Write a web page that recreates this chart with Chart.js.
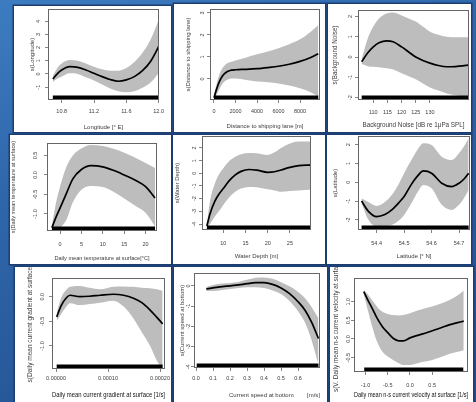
<!DOCTYPE html>
<html><head><meta charset="utf-8">
<script src="https://cdn.jsdelivr.net/npm/chart.js@4.4.1/dist/chart.umd.min.js"></script>
<style>
html,body{margin:0;padding:0;}
body{width:476px;height:402px;overflow:hidden;position:relative;
 background:linear-gradient(160deg,#3d7cc0 0%,#2f66aa 35%,#285a9c 65%,#1f4c8a 100%);}
.p{position:absolute;background:#fff;box-shadow:0 0 0 1.5px #1c3d70;}
.p canvas{position:absolute;left:0;top:0;}
</style></head><body>
<script>
// ---- Longitude ----
const lonX   = [10.69, 10.75, 10.8, 10.9, 11.0, 11.1, 11.2, 11.3, 11.4, 11.5, 11.6, 11.7, 11.8, 11.9, 12.02];
const lonFit = [-0.38, 0.05, 0.3, 0.55, 0.5, 0.3, 0.05, -0.2, -0.42, -0.55, -0.45, -0.2, 0.25, 0.95, 2.3];
const lonUp  = [-0.15, 0.5, 0.8, 1.05, 1.0, 0.8, 0.55, 0.35, 0.25, 0.25, 0.45, 0.9, 1.6, 2.6, 4.4];
const lonLo  = [-0.6, -0.35, -0.2, 0.05, 0.0, -0.25, -0.5, -0.8, -1.1, -1.3, -1.38, -1.3, -1.05, -0.65, 0.2];
const lonRug = [10.69, 12.02];
const lonXTicks = [10.8, 11.2, 11.6, 12.0], lonXLabels = ['10.8','11.2','11.6','12.0'];
const lonYTicks = [-1, 0, 1, 2, 3, 4], lonYLabels = ['-1','0','1','2','3','4'];

// ---- Distance to shipping lane ----
const distX   = [0, 250, 500, 800, 1200, 1600, 2000, 3000, 4000, 5000, 6000, 7000, 8000, 9000, 9700];
const distFit = [-0.85, -0.45, -0.12, 0.15, 0.33, 0.4, 0.42, 0.44, 0.47, 0.52, 0.58, 0.67, 0.8, 0.98, 1.15];
const distUp  = [-0.75, -0.2, 0.2, 0.5, 0.7, 0.78, 0.84, 0.98, 1.12, 1.25, 1.4, 1.58, 1.8, 2.15, 2.45];
const distLo  = [-0.95, -0.7, -0.45, -0.2, -0.05, 0.02, 0.02, -0.05, -0.12, -0.15, -0.2, -0.3, -0.42, -0.6, -0.8];
const distRug = [0, 9700];
const distXTicks = [0, 2000, 4000, 6000, 8000], distXLabels = ['0','2000','4000','6000','8000'];
const distYTicks = [0, 1, 2, 3], distYLabels = ['0','1','2','3'];

// ---- Background noise ----
const noiseX   = [105.9, 108, 110, 112, 114.7, 117, 120, 122.5, 125, 127.5, 130, 133, 136, 139, 141.5, 143.5];
const noiseFit = [-0.23, 0.2, 0.5, 0.7, 0.8, 0.75, 0.5, 0.25, 0.0, -0.17, -0.3, -0.42, -0.48, -0.47, -0.44, -0.4];
const noiseUp  = [-0.1, 0.9, 1.5, 1.9, 2.15, 2.2, 2.05, 1.9, 1.75, 1.5, 1.25, 1.1, 1.0, 0.97, 0.97, 0.97];
const noiseLo  = [-0.35, -0.45, -0.48, -0.5, -0.55, -0.62, -0.8, -0.95, -1.1, -1.3, -1.5, -1.65, -1.8, -1.88, -1.93, -1.95];
const noiseRug = [105.9, 143.5];
const noiseXTicks = [110, 115, 120, 125, 130], noiseXLabels = ['110','115','120','125','130'];
const noiseYTicks = [-2, -1, 0, 1, 2], noiseYLabels = ['-2','-1','0','1','2'];

// ---- Daily mean temperature at surface ----
const tempX   = [-1.9, -1, 0, 1.5, 3, 5, 7.2, 10, 12.5, 15, 17.5, 20, 22.2];
const tempFit = [-1.35, -1.1, -0.85, -0.47, -0.1, 0.14, 0.24, 0.21, 0.12, 0.0, -0.13, -0.3, -0.59];
const tempUp  = [-1.3, -0.75, -0.3, 0.21, 0.5, 0.68, 0.77, 0.74, 0.67, 0.57, 0.45, 0.31, 0.18];
const tempLo  = [-1.4, -1.4, -1.35, -1.15, -0.7, -0.38, -0.28, -0.31, -0.43, -0.6, -0.78, -0.97, -1.32];
const tempRug = [-1.9, 22.2];
const tempXTicks = [0, 5, 10, 15, 20], tempXLabels = ['0','5','10','15','20'];
const tempYTicks = [-1.0, -0.5, 0.0, 0.5], tempYLabels = ['-1.0','-0.5','0.0','0.5'];

// ---- Water depth ----
const depthX   = [6.3, 7, 8.1, 9, 10, 11.3, 12.7, 14, 15.8, 17.5, 20, 21.5, 23, 25, 27, 29.6];
const depthFit = [-4.15, -3.2, -2.2, -1.65, -1.2, -0.6, -0.13, 0.15, 0.3, 0.25, 0.08, 0.12, 0.26, 0.47, 0.6, 0.65];
const depthUp  = [-4.0, -2.2, -0.8, -0.1, 0.4, 0.95, 1.3, 1.5, 1.6, 1.58, 1.45, 1.65, 2.0, 2.35, 2.5, 2.5];
const depthLo  = [-4.3, -4.0, -3.4, -3.0, -2.5, -1.9, -1.45, -1.2, -1.08, -1.1, -1.26, -1.35, -1.45, -1.4, -1.35, -1.3];
const depthRug = [6.3, 29.6];
const depthXTicks = [10, 15, 20, 25], depthXLabels = ['10','15','20','25'];
const depthYTicks = [-4, -3, -2, -1, 0, 1, 2], depthYLabels = ['-4','-3','-2','-1','0','1','2'];

// ---- Latitude ----
const latX   = [54.345, 54.37, 54.40, 54.43, 54.455, 54.48, 54.50, 54.527, 54.55, 54.57, 54.60, 54.637, 54.673, 54.70, 54.72, 54.735];
const latFit = [-1.0, -1.55, -1.83, -1.72, -1.47, -1.1, -0.76, -0.1, 0.35, 0.6, 0.48, -0.05, -0.23, -0.05, 0.2, 0.48];
const latUp  = [-0.85, -1.05, -1.26, -1.05, -0.68, -0.1, 0.48, 1.2, 1.76, 2.07, 1.98, 1.36, 1.18, 1.54, 1.95, 2.34];
const latLo  = [-1.1, -2.0, -2.36, -2.35, -2.27, -2.05, -1.74, -1.1, -0.5, -0.14, -0.32, -1.2, -1.47, -1.2, -0.8, -0.41];
const latRug = [54.345, 54.735];
const latXTicks = [54.4, 54.5, 54.6, 54.7], latXLabels = ['54.4','54.5','54.6','54.7'];
const latYTicks = [-2, -1, 0, 1, 2], latYLabels = ['-2','-1','0','1','2'];

// ---- Daily mean current gradient at surface ----
const gradX   = [0.0000013, 0.00001, 0.00002, 0.000027, 0.000046, 0.000065, 0.000085, 0.00011, 0.00013, 0.000149, 0.000165, 0.000181, 0.000194, 0.000205];
const gradFit = [-0.41, -0.18, -0.02, 0.03, 0.0, 0.01, 0.03, 0.05, 0.03, -0.03, -0.12, -0.27, -0.42, -0.55];
const gradUp  = [-0.33, -0.02, 0.14, 0.2, 0.22, 0.18, 0.15, 0.2, 0.21, 0.2, 0.18, 0.17, 0.15, 0.12];
const gradLo  = [-0.49, -0.35, -0.2, -0.13, -0.17, -0.15, -0.12, -0.08, -0.2, -0.44, -0.72, -1.0, -1.3, -1.47];
const gradRug = [0.0000013, 0.000205];
const gradXTicks = [0, 0.0001, 0.0002], gradXLabels = ['0.00000','0.00010','0.00020'];
const gradYTicks = [-1.0, -0.5, 0.0], gradYLabels = ['-1.0','-0.5','0.0'];

// ---- Current speed at bottom ----
const speedX   = [0.06, 0.1, 0.155, 0.2, 0.25, 0.3, 0.35, 0.4, 0.45, 0.5, 0.55, 0.6, 0.64, 0.68, 0.72];
const speedFit = [-0.15, -0.1, -0.03, 0.0, 0.05, 0.11, 0.16, 0.16, 0.08, -0.1, -0.38, -0.78, -1.19, -1.8, -2.6];
const speedUp  = [-0.05, 0.05, 0.12, 0.15, 0.2, 0.3, 0.4, 0.42, 0.35, 0.18, -0.02, -0.3, -0.6, -1.05, -1.6];
const speedLo  = [-0.25, -0.25, -0.2, -0.15, -0.1, -0.07, -0.06, -0.1, -0.22, -0.4, -0.75, -1.25, -1.8, -2.7, -3.9];
const speedRug = [0.004, 0.72];
const speedXTicks = [0, 0.1, 0.2, 0.3, 0.4, 0.5, 0.6], speedXLabels = ['0.0','0.1','0.2','0.3','0.4','0.5','0.6'];
const speedYTicks = [-4, -3, -2, -1, 0], speedYLabels = ['-4','-3','-2','-1','0'];

// ---- Daily mean n-s current velocity at surface ----
const nsX   = [-1.04, -0.95, -0.85, -0.75, -0.62, -0.5, -0.38, -0.25, -0.15, 0.0, 0.15, 0.27, 0.5, 0.7, 0.88, 1.05, 1.21];
const nsFit = [1.27, 1.05, 0.82, 0.58, 0.33, 0.17, 0.02, -0.05, -0.05, 0.03, 0.09, 0.13, 0.22, 0.3, 0.38, 0.43, 0.48];
const nsUp  = [1.32, 1.2, 1.04, 0.88, 0.73, 0.67, 0.64, 0.63, 0.64, 0.69, 0.76, 0.8, 0.87, 0.95, 1.04, 1.15, 1.3];
const nsLo  = [1.2, 0.78, 0.33, -0.05, -0.34, -0.47, -0.56, -0.65, -0.7, -0.7, -0.66, -0.62, -0.56, -0.48, -0.4, -0.35, -0.3];
const nsRug = [-1.03, 1.2];
const nsXTicks = [-1.0, -0.5, 0.0, 0.5], nsXLabels = ['-1.0','-0.5','0.0','0.5'];
const nsYTicks = [-0.5, 0.0, 0.5, 1.0], nsYLabels = ['-0.5','0.0','0.5','1.0'];

// ---- layout (page pixels) ----
const FAM = "'Liberation Sans', Arial, sans-serif";
const TXT = '#3c3c3c', AX = '#666', BAND = '#bdbdbd', TL = 3;

const panels = [
 {rect:[14,6,157,126], box:[48,9,159,100], xr:[10.63,12.005], yr:[-1.97,4.92],
  X:lonX,F:lonFit,U:lonUp,L:lonLo,R:lonRug, xt:lonXTicks,xl:lonXLabels, yt:lonYTicks,yl:lonYLabels,
  xTitle:'Longitude [° E]', yTitle:'s(Longitude)', yTickGap:10, yTitleX:32, xTickGap:11, xTitleY:127, tf:5.5, lf:6},
 {rect:[174,4,151,128], box:[210,9,320,100], xr:[-372,9860], yr:[-0.955,3.18],
  X:distX,F:distFit,U:distUp,L:distLo,R:distRug, xt:distXTicks,xl:distXLabels, yt:distYTicks,yl:distYLabels,
  xTitle:'Distance to shipping lane [m]', yTitle:'s(Distance to shipping lane)', yTickGap:7.3, yTitleX:188.5, xTickGap:11, xTitleY:126.7, tf:5.5, lf:6},
 {rect:[328,4,143,128], box:[358,10,469,100], xr:[104.6,143.8], yr:[-2.12,2.32],
  X:noiseX,F:noiseFit,U:noiseUp,L:noiseLo,R:noiseRug, xt:noiseXTicks,xl:noiseXLabels, yt:noiseYTicks,yl:noiseYLabels,
  xTitle:'Background Noise [dB re 1μPa SPL]', yTitle:'s(Background Noise)', yTickGap:8, yTitleX:335, xTickGap:12.3, xTitleY:125.7, tf:5.5, lf:6.3},
 {rect:[10,135,161,129], box:[47,143,157,231], xr:[-3.04,22.66], yr:[-1.436,0.82],
  X:tempX,F:tempFit,U:tempUp,L:tempLo,R:tempRug, xt:tempXTicks,xl:tempXLabels, yt:tempYTicks,yl:tempYLabels,
  xTitle:'Daily mean temperature at surface[°C]', yTitle:'s(Daily mean temperature at surface)', yTickGap:12, yTitleX:13, xTickGap:13.3, xTitleY:258.3, tf:5.5, lf:5.6},
 {rect:[173,135,152,129], box:[202,136,311,230], xr:[5.2,29.75], yr:[-4.47,2.94],
  X:depthX,F:depthFit,U:depthUp,L:depthLo,R:depthRug, xt:depthXTicks,xl:depthXLabels, yt:depthYTicks,yl:depthYLabels,
  xTitle:'Water Depth [m]', yTitle:'s(Water Depth)', yTickGap:7.7, yTitleX:177, xTickGap:13.3, xTitleY:256.7, tf:5.5, lf:6},
 {rect:[327,135,144,129], box:[358,136,470,230], xr:[54.332,54.740], yr:[-2.54,2.46],
  X:latX,F:latFit,U:latUp,L:latLo,R:latRug, xt:latXTicks,xl:latXLabels, yt:latYTicks,yl:latYLabels,
  xTitle:'Latitude [° N]', yTitle:'s(Latitude)', yTickGap:9.7, yTitleX:335.7, xTickGap:13.3, xTitleY:256.7, tf:5.5, lf:6},
 {rect:[15,267,156,135], box:[52,278,165,369], xr:[-0.0000077,0.0002096], yr:[-1.467,0.38],
  X:gradX,F:gradFit,U:gradUp,L:gradLo,R:gradRug, xt:gradXTicks,xl:gradXLabels, yt:gradYTicks,yl:gradYLabels,
  xTitle:'Daily mean current gradient at surface [1/s]', yTitle:'s(Daily mean current gradient at surface)', yTickGap:9.7, yTitleX:30.7, xTickGap:9.3, xTitleY:395, tf:5.5, lf:6.5, dark:true},
 {rect:[174,267,153,135], box:[194,273,320,368], xr:[-0.012,0.729], yr:[-4.06,0.64],
  X:speedX,F:speedFit,U:speedUp,L:speedLo,R:speedRug, xt:speedXTicks,xl:speedXLabels, yt:speedYTicks,yl:speedYLabels,
  xTitle:'Current speed at bottom        [m/s]', yTitle:'s(Current speed at bottom)', yTickGap:5.7, yTitleX:182.3, xTickGap:10, xTitleY:395, tf:5.5, lf:6, alignEnd:true},
 {rect:[330,267,143,135], box:[354,278,468,372], xr:[-1.26,1.306], yr:[-0.885,1.635],
  X:nsX,F:nsFit,U:nsUp,L:nsLo,R:nsRug, xt:nsXTicks,xl:nsXLabels, yt:nsYTicks,yl:nsYLabels,
  xTitle:'Daily mean n-s current velocity at surface [1/s]', yTitle:'s(V. Daily mean n-s current velocity at surface)', yTickGap:6, yTitleX:336.7, xTickGap:13, xTitleY:395, tf:5.5, lf:6.5, dark:true}
];

const mctx = document.createElement('canvas').getContext('2d');
function measure(t, size){ mctx.font = size + 'px ' + FAM; return mctx.measureText(t).width; }

const frame = {id:'frame', afterDatasetsDraw(chart){
  const {ctx, chartArea:a} = chart;
  ctx.save(); ctx.strokeStyle = AX; ctx.lineWidth = 1;
  ctx.strokeRect(Math.round(a.left)+0.5, Math.round(a.top)+0.5, Math.round(a.right-a.left)-1, Math.round(a.bottom-a.top)-1);
  ctx.restore();
}};

function build(p){
  const [pl,pt,pw,ph] = p.rect, [bl,bt,br,bb] = p.box;
  const div = document.createElement('div'); div.className = 'p';
  Object.assign(div.style, {left:pl+'px', top:pt+'px', width:pw+'px', height:ph+'px'});
  const cv = document.createElement('canvas'); cv.width = pw; cv.height = ph;
  cv.style.width = pw+'px'; cv.style.height = ph+'px';
  div.appendChild(cv); document.body.appendChild(div);
  const yW = bl - pl, xH = pt + ph - bb;
  const lhT = p.tf*1.2, lhL = p.lf*1.2;
  const widest = Math.max(...p.yl.map(s => measure(s, p.tf)));
  const yPad = p.yTickGap - TL - widest/2;
  const xPad = p.xTickGap - TL - lhT/2;
  const pts = (X, Y) => X.map((x, i) => ({x, y: Y[i]}));
  const titleColor = p.dark ? '#111' : TXT;
  const grid = {display:true, drawOnChartArea:false, drawTicks:true, tickLength:TL, color:AX, lineWidth:0.8};
  new Chart(cv, {
    type:'line',
    data:{datasets:[
      {data:pts(p.X,p.F), borderColor:'#000', borderWidth:1.7, pointRadius:0, cubicInterpolationMode:'monotone', fill:false},
      {data:[{x:p.R[0], y:p.yr[0]}, {x:p.R[1], y:p.yr[0]}], borderColor:'#000', borderWidth:9, pointRadius:0, clip:0, fill:false, borderCapStyle:'butt'},
      {data:pts(p.X,p.U), borderWidth:0, borderColor:'rgba(0,0,0,0)', backgroundColor:BAND, pointRadius:0, cubicInterpolationMode:'monotone', fill:'+1'},
      {data:pts(p.X,p.L), borderWidth:0, borderColor:'rgba(0,0,0,0)', pointRadius:0, cubicInterpolationMode:'monotone', fill:false}
    ]},
    options:{
      responsive:false, animation:false, devicePixelRatio:1, events:[],
      layout:{padding:{left:0, top:bt-pt, right:pl+pw-br, bottom:0}},
      plugins:{legend:{display:false}, tooltip:{enabled:false}},
      scales:{
        x:{type:'linear', min:p.xr[0], max:p.xr[1],
          afterBuildTicks:s => { s.ticks = p.xt.map(v => ({value:v})); },
          afterFit:s => { s.height = xH; s.paddingLeft = 0; s.paddingRight = 0; },
          grid, border:{display:false},
          ticks:{autoSkip:false, minRotation:0, maxRotation:0, padding:xPad, color:TXT, font:{size:p.tf, family:FAM}, callback:(v,i) => p.xl[i]},
          title:{display:true, text:p.xTitle, color:titleColor, align:p.alignEnd?'end':'center', font:{size:p.lf, family:FAM}, padding:{top:0, bottom:pt+ph-p.xTitleY-lhL/2}}
        },
        y:{type:'linear', min:p.yr[0], max:p.yr[1],
          afterBuildTicks:s => { s.ticks = p.yt.map(v => ({value:v})); },
          afterFit:s => { s.width = yW; s.paddingTop = 0; s.paddingBottom = 0; },
          grid, border:{display:false},
          ticks:{autoSkip:false, minRotation:90, maxRotation:90, crossAlign:'center', padding:yPad, color:TXT, font:{size:p.tf, family:FAM}, callback:(v,i) => p.yl[i]},
          title:{display:true, text:p.yTitle, color:TXT, font:{size:p.lf, family:FAM}, padding:{top:p.yTitleX-pl-lhL/2, bottom:0}}
        }
      }
    },
    plugins:[frame]
  });
}
panels.forEach(build);
</script>
</body></html>
